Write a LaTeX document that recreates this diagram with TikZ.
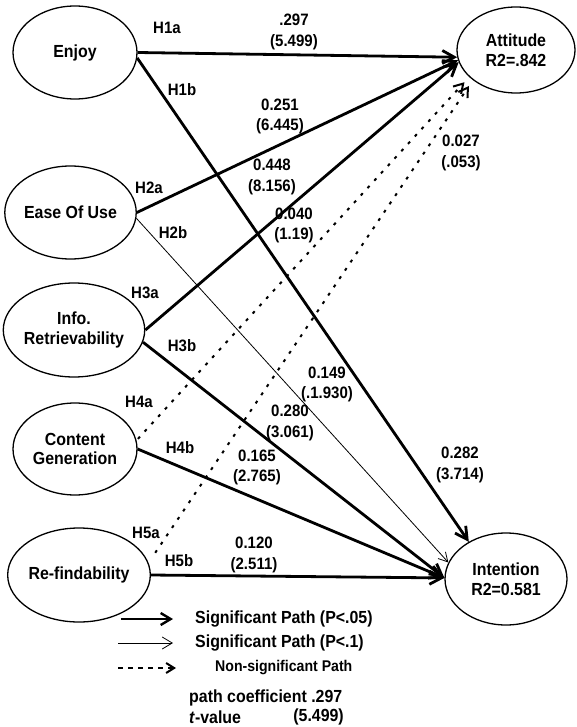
\documentclass[tikz,border=0pt]{standalone}
\usepackage{fontspec}
\setmainfont[FakeStretch=0.91]{Liberation Sans}
\usetikzlibrary{shapes.geometric,arrows.meta}
\begin{document}
\begin{tikzpicture}[x=1pt,y=-1pt,
  lat/.style={ellipse, draw, line width=1.3pt, inner sep=0pt, align=center,
    font=\fontsize{17.5}{19.5}\selectfont\bfseries},
  lbl/.style={inner sep=0pt, align=center, font=\fontsize{16.5}{20.5}\selectfont\bfseries},
  leg/.style={inner sep=0pt, anchor=west, font=\fontsize{17.5}{19.5}\selectfont\bfseries},
  sig/.style={line width=2.8pt, -{Straight Barb[length=12pt,width=13pt]}},
  weak/.style={line width=0.8pt, -{Straight Barb[length=9pt,width=10pt]}},
  ns/.style={line width=2pt, dash pattern=on 3pt off 7pt, -{Straight Barb[length=9pt,width=11pt]}}
]
\useasboundingbox (0,0) rectangle (576,727);

% latent variables
\node[lat, minimum width=124pt, minimum height=93pt] (enjoy)  at (75,52.5)  {Enjoy};
\node[lat, minimum width=125pt, minimum height=93pt] (ease)   at (70.5,212.5) {Ease Of Use};
\node[lat, minimum width=122pt, minimum height=94pt] (info)   at (74,330)   {Info.\\Retrievability};
\node[lat, minimum width=124pt, minimum height=92pt] (cont)   at (75,449)   {Content\\Generation};
\node[lat, minimum width=122pt, minimum height=94pt] (refind) at (79,575)   {Re-findability};
\node[lat, minimum width=118pt, minimum height=86pt] (att)    at (516,50)   {Attitude\\R2=.842};
\node[lat, minimum width=122pt, minimum height=92pt] (int)    at (506,579)  {Intention\\R2=0.581};

% paths
\draw[sig] (enjoy.east) -- (att.187);
\draw[sig] (enjoy.355) -- (int.135);
\draw[sig] (ease.east) -- (att.190);
\draw[weak] (ease.355) -- (int.164);
\draw[sig] (info.east) -- (att.192);
\draw[sig] (info.350) -- (int.179);
\draw[ns, shorten <=2pt, shorten >=7pt] (cont.8) -- (att.210);
\draw[sig] (cont.east) -- (int.179);
\draw[ns, shorten <=12pt, shorten >=7pt] (refind.10) -- (att.215);
\draw[sig] (refind.east) -- (int.179);

% hypothesis labels
\node[lbl] (h1a) at (167,28)  {H1a};
\node[lbl] (h1b) at (182,90)  {H1b};
\node[lbl] (h2a) at (149,188) {H2a};
\node[lbl] (h2b) at (173,233) {H2b};
\node[lbl] (h3a) at (145,293) {H3a};
\node[lbl] (h3b) at (182,346) {H3b};
\node[lbl] (h4a) at (139,402) {H4a};
\node[lbl] (h4b) at (180,448) {H4b};
\node[lbl] (h5a) at (146,533) {H5a};
\node[lbl] (h5b) at (179,561) {H5b};

% coefficients
\node[lbl] (c1a) at (294,32)    {.297\\(5.499)};
\node[lbl] (c2a) at (280,116.5) {0.251\\(6.445)};
\node[lbl] (c4a) at (461,153)   {0.027\\(.053)};
\node[lbl] (c3a) at (272,177)   {0.448\\(8.156)};
\node[lbl] (c5a) at (294,225.5) {0.040\\(1.19)};
\node[lbl] (c2b) at (327,384.5) {0.149\\(.1.930)};
\node[lbl] (c3b) at (290,423)   {0.280\\(3.061)};
\node[lbl] (c4b) at (257,467.5) {0.165\\(2.765)};
\node[lbl] (c1b) at (460,465)   {0.282\\(3.714)};
\node[lbl] (c5b) at (254,555)   {0.120\\(2.511)};

% legend
\coordinate (l1s) at (121,619); \coordinate (l1e) at (173,619);
\coordinate (l2s) at (118,643); \coordinate (l2e) at (173,643);
\coordinate (l3s) at (118,668); \coordinate (l3e) at (176,668);
\draw[line width=2.4pt, -{Straight Barb[length=10pt,width=12pt]}] (l1s) -- (l1e);
\draw[line width=0.8pt, -{Straight Barb[length=10pt,width=12pt]}] (l2s) -- (l2e);
\draw[line width=2pt, dash pattern=on 5pt off 5pt, -{Straight Barb[length=8pt,width=10pt]}] (l3s) -- (l3e);
\node[leg] (t1) at (195,619) {Significant Path (P<.05)};
\node[leg] (t2) at (195,643) {Significant Path (P<.1)};
\node[leg, font=\fontsize{15.5}{17}\selectfont\bfseries] (t3) at (215,668) {Non-significant Path};
\node[leg] (t4) at (189,698) {path coefficient .297};
\node[leg] (t5) at (189,717) {\textit{t}-value};
\node[leg, anchor=east] (t6) at (344,717) {(5.499)};
\end{tikzpicture}
\end{document}
